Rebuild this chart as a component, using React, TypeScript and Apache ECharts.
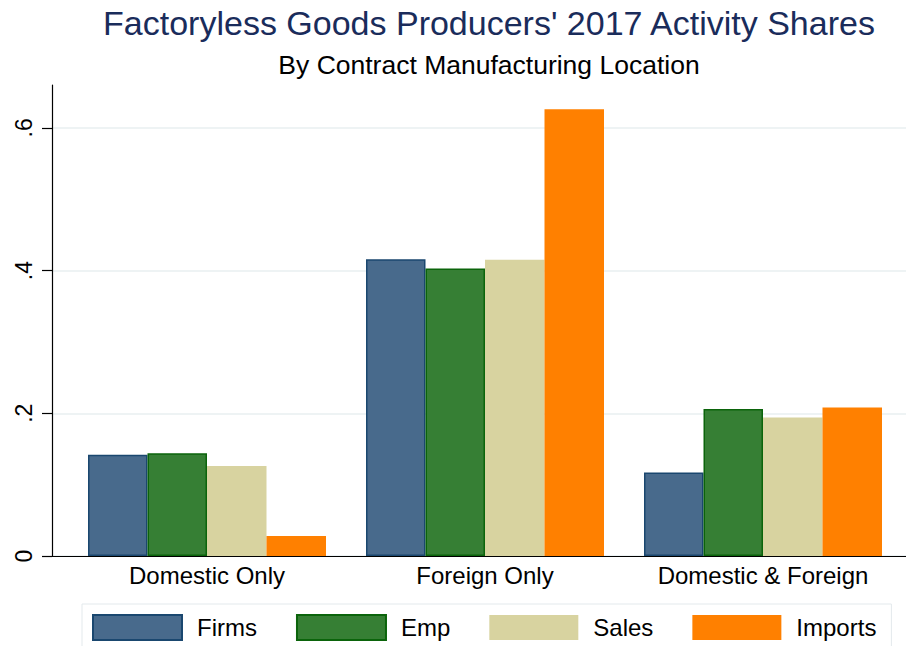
import React, { useEffect, useRef } from "react";
import * as echarts from "echarts";

const categories = ["Domestic Only", "Foreign Only", "Domestic & Foreign"];
const seriesNames = ["Firms", "Emp", "Sales", "Imports"];
const firms = [0.142, 0.416, 0.117];
const emp = [0.144, 0.403, 0.206];
const sales = [0.126, 0.415, 0.194];
const imports = [0.028, 0.626, 0.208];
const yTicks = [0, 0.2, 0.4, 0.6];
const yTickLabels = ["0", ".2", ".4", ".6"];

const FONT = "'Liberation Sans', Arial, sans-serif";

export default function App() {
  const ref = useRef<HTMLDivElement>(null);
  useEffect(() => {
    if (!ref.current) return;
    const chart = echarts.init(ref.current, null, { renderer: "svg" });
    const fills = ["#486a8c", "#367f34", "#d8d3a0", "#ff8000"];
    const borders = ["#1a476f", "#0b640b", "#d8d3a0", "#ff8000"];
    const values = [firms, emp, sales, imports];
    const gridTop = 85;
    const gridBottom = 90;
    chart.setOption({
      animation: false,
      backgroundColor: "#ffffff",
      title: [
        {
          text: "Factoryless Goods Producers' 2017 Activity Shares",
          left: 484,
          textAlign: "center",
          top: 1,
          textStyle: { fontFamily: FONT, fontSize: 34, fontWeight: "normal", color: "#1a2c5b" },
        },
        {
          text: "By Contract Manufacturing Location",
          left: 484,
          textAlign: "center",
          top: 46,
          textStyle: { fontFamily: FONT, fontSize: 26.5, fontWeight: "normal", color: "#000000" },
        },
      ],
      legend: {
        left: 82,
        top: 604,
        orient: "horizontal",
        padding: [10, 15, 10, 10],
        borderColor: "#e3e9ec",
        borderWidth: 1,
        backgroundColor: "#ffffff",
        itemWidth: 89,
        itemHeight: 25,
        itemGap: 39,
        icon: "rect",
        data: seriesNames,
        textStyle: { fontFamily: FONT, fontSize: 24, color: "#000000", padding: [0, 0, 0, 10] },
      },
      grid: [
        { left: 68, right: 4, top: gridTop, bottom: gridBottom },
        { left: 52, right: 0, top: gridTop, bottom: gridBottom },
      ],
      xAxis: [
        {
          type: "category",
          gridIndex: 0,
          data: categories,
          axisLine: { show: false },
          axisTick: { show: false },
          axisLabel: { fontFamily: FONT, fontSize: 24, color: "#000000", margin: 7 },
        },
        {
          type: "value",
          gridIndex: 1,
          min: 0,
          max: 1,
          axisLine: { show: true, onZero: false, lineStyle: { color: "#000000", width: 1.2 } },
          axisTick: { show: false },
          axisLabel: { show: false },
          splitLine: { show: false },
        },
      ],
      yAxis: [
        {
          type: "value",
          gridIndex: 0,
          min: 0,
          max: 0.66,
          show: false,
          splitLine: { show: false },
        },
        {
          type: "value",
          gridIndex: 1,
          min: 0,
          max: 0.66,
          interval: 0.2,
          axisLine: { show: true, lineStyle: { color: "#000000", width: 1.2 } },
          axisTick: { show: true, length: 10, lineStyle: { color: "#000000", width: 1.2 } },
          axisLabel: {
            rotate: 90,
            margin: 17,
            showMaxLabel: false,
            fontFamily: FONT,
            fontSize: 23,
            color: "#000000",
            formatter: (v: number) => {
              const i = yTicks.findIndex((t) => Math.abs(t - v) < 1e-9);
              return i >= 0 ? yTickLabels[i] : "";
            },
          },
          splitLine: {
            show: true,
            lineStyle: {
              color: ["#e8eff1", "#e8eff1", "#e8eff1", "#e8eff1", "rgba(0,0,0,0)"],
              width: 1.5,
            },
          },
        },
      ],
      series: seriesNames.map((name, i) => ({
        name,
        type: "bar",
        xAxisIndex: 0,
        yAxisIndex: 0,
        data: values[i],
        barWidth: 59.5,
        barGap: "0%",
        itemStyle: {
          color: fills[i],
          borderColor: borders[i],
          borderWidth: i < 2 ? 1.5 : 0,
        },
      })),
    });
    return () => chart.dispose();
  }, []);
  return (
    <div
      ref={ref}
      style={{ position: "fixed", left: 0, top: 0, width: 906, height: 646 }}
    />
  );
}
